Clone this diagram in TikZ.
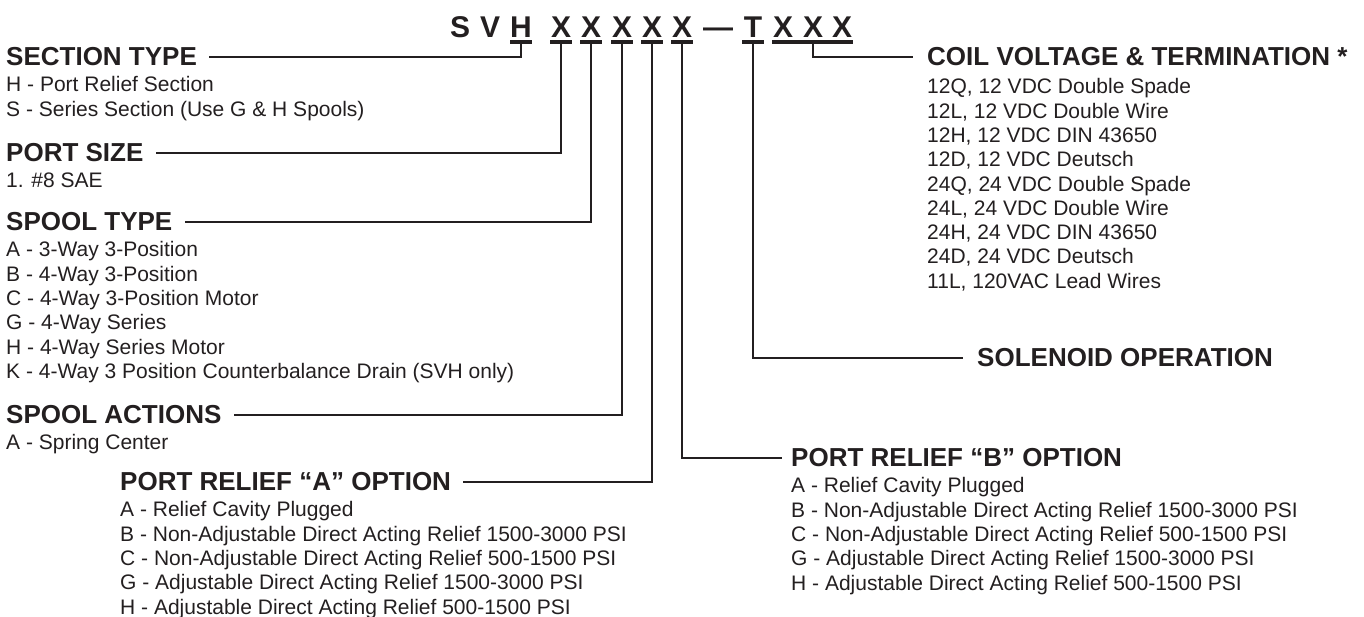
\documentclass[tikz,border=0pt]{standalone}
\usepackage{fontspec}
\setmainfont{Liberation Sans}
\usepackage{tikz}
\usetikzlibrary{positioning}
\definecolor{ink}{HTML}{231F20}

\tikzset{
  code/.style={font=\fontsize{30}{34}\selectfont\bfseries, inner sep=0pt, anchor=base},
  head/.style={font=\fontsize{26}{30}\selectfont\bfseries, inner sep=0pt, anchor=west},
  opts/.style={font=\fontsize{21}{24.3}\selectfont, inner sep=0pt, align=left},
  lead/.style={line width=2pt, shorten >=12pt},
  uline/.style={line width=3.5pt}
}

\begin{document}
\begin{tikzpicture}[x=1pt, y=-1pt, color=ink]
  \useasboundingbox (0,0) rectangle (1364,616);
  % model code, one node per character
  \foreach \ch/\x [count=\i] in {S/460,V/490,H/521,X/561,X/591,X/622,X/652,X/682,T/753,X/783,X/813,X/842} {
    \node[code] (c\i) at (\x,37) {\ch};
    \coordinate (u\i) at (\x,42);
  }
  \node[code] (dash) at (718,37) {—};
  \foreach \i in {3,...,9}
    \draw[uline] ([xshift=-11pt]u\i) -- ([xshift=11pt]u\i);
  \draw[uline] ([xshift=-11pt]u10) -- ([xshift=11pt]u12);

  % left column
  \node[head] (hsec) at (6,57) {SECTION TYPE};
  \node[opts, below=10pt of hsec.south west, anchor=north west] (osec)
    {H - Port Relief Section\\S - Series Section (Use G \& H Spools)};
  \node[head] (hsize) at (6,153) {PORT SIZE};
  \node[opts, below=10pt of hsize.south west, anchor=north west] (osize) {1. \#8 SAE};
  \node[head] (hspool) at (6,222) {SPOOL TYPE};
  \node[opts, below=10pt of hspool.south west, anchor=north west] (ospool)
    {A - 3-Way 3-Position\\B - 4-Way 3-Position\\C - 4-Way 3-Position Motor\\
     G - 4-Way Series\\H - 4-Way Series Motor\\
     K - 4-Way 3 Position Counterbalance Drain (SVH only)};
  \node[head] (hact) at (6,415) {SPOOL ACTIONS};
  \node[opts, below=10pt of hact.south west, anchor=north west] (oact) {A - Spring Center};
  \node[head] (hpra) at (120,482) {PORT RELIEF “A” OPTION};
  \node[opts, below=10pt of hpra.south west, anchor=north west] (opra)
    {A - Relief Cavity Plugged\\
     B - Non-Adjustable Direct Acting Relief 1500-3000 PSI\\
     C - Non-Adjustable Direct Acting Relief 500-1500 PSI\\
     G - Adjustable Direct Acting Relief 1500-3000 PSI\\
     H - Adjustable Direct Acting Relief 500-1500 PSI};

  % right column
  \node[head] (hcoil) at (927,57) {COIL VOLTAGE \& TERMINATION *};
  \node[opts, below=12pt of hcoil.south west, anchor=north west] (ocoil)
    {12Q, 12 VDC Double Spade\\12L, 12 VDC Double Wire\\12H, 12 VDC DIN 43650\\
     12D, 12 VDC Deutsch\\24Q, 24 VDC Double Spade\\24L, 24 VDC Double Wire\\
     24H, 24 VDC DIN 43650\\24D, 24 VDC Deutsch\\11L, 120VAC Lead Wires};
  \node[head] (hsol) at (977,358) {SOLENOID OPERATION};
  \node[head] (hprb) at (791,458) {PORT RELIEF “B” OPTION};
  \node[opts, below=10pt of hprb.south west, anchor=north west] (oprb)
    {A - Relief Cavity Plugged\\
     B - Non-Adjustable Direct Acting Relief 1500-3000 PSI\\
     C - Non-Adjustable Direct Acting Relief 500-1500 PSI\\
     G - Adjustable Direct Acting Relief 1500-3000 PSI\\
     H - Adjustable Direct Acting Relief 500-1500 PSI};

  % leaders
  \draw[lead] (u3) |- (hsec.east);
  \draw[lead] (u4) |- (hsize.east);
  \draw[lead] (u5) |- (hspool.east);
  \draw[lead] (u6) |- (hact.east);
  \draw[lead] (u7) |- (hpra.east);
  \draw[lead, shorten >=9pt] (u8) |- (hprb.west);
  \draw[lead, shorten >=14pt] (u9) |- (hsol.west);
  \draw[lead, shorten >=14pt] (u11) |- (hcoil.west);
\end{tikzpicture}
\end{document}
